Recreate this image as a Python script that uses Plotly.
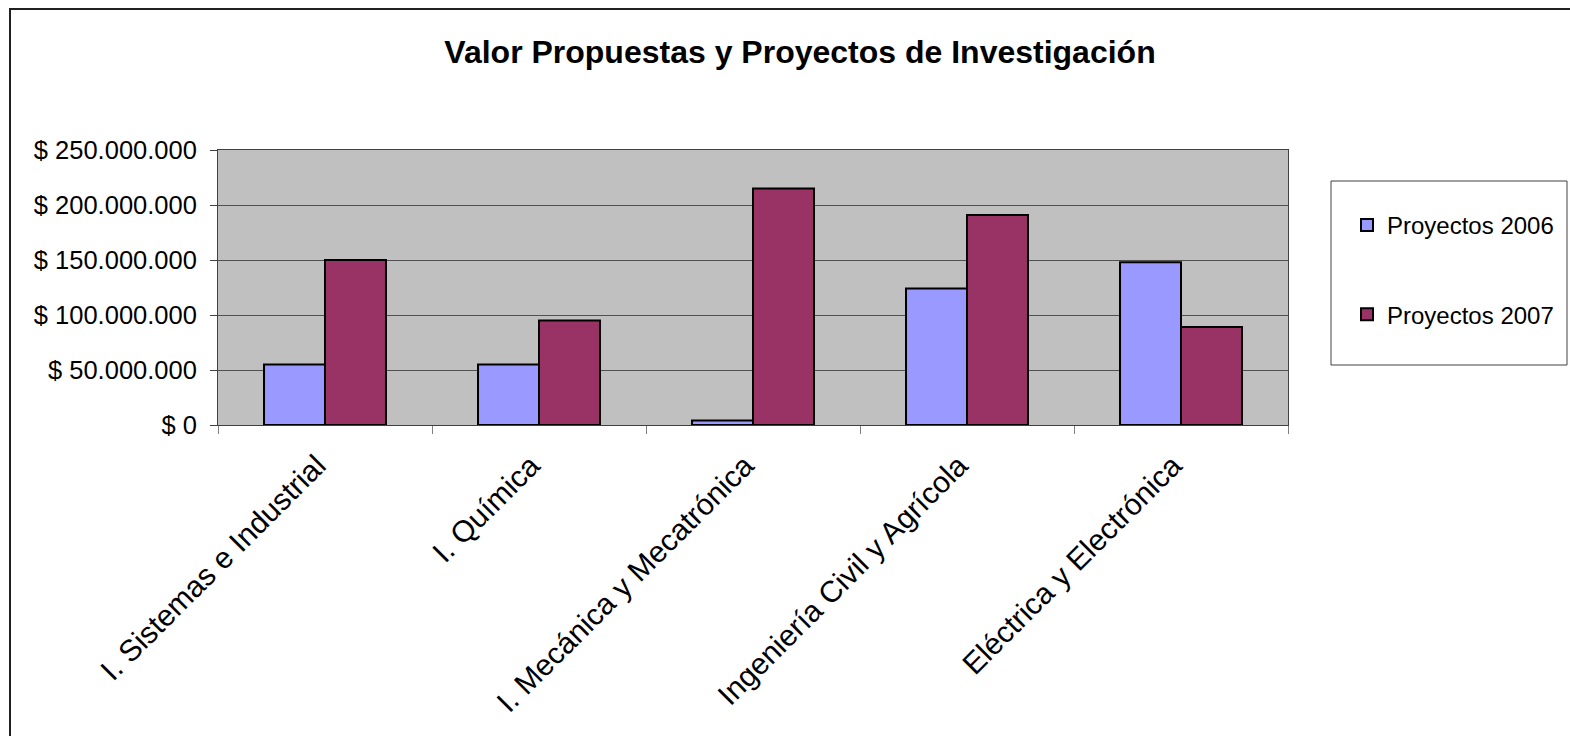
import plotly.graph_objects as go

categories = ["I. Sistemas e Industrial", "I. Química", "I. Mecánica y Mecatrónica",
              "Ingeniería Civil y Agrícola", "Eléctrica y Electrónica"]
proyectos_2006 = [55_000_000, 55_000_000, 4_000_000, 124_000_000, 148_000_000]
proyectos_2007 = [150_000_000, 95_000_000, 215_000_000, 191_000_000, 89_000_000]
y_tick_vals = [0, 50_000_000, 100_000_000, 150_000_000, 200_000_000, 250_000_000]
y_tick_text = ["$ 0", "$ 50.000.000", "$ 100.000.000", "$ 150.000.000",
               "$ 200.000.000", "$ 250.000.000"]

W, H = 1570, 736
# plot area in page pixel coordinates
L, R, T, B = 218, 1288, 150, 425

def px_x(px):
    return (px - L) / (R - L)

def px_y(py):
    return (B - py) / (B - T)

FONT = "Liberation Sans, Arial, sans-serif"

fig = go.Figure()
fig.add_trace(go.Bar(x=categories, y=proyectos_2006, name="Proyectos 2006",
                     legendgroup="a",
                     marker=dict(color="#9999FF", line=dict(color="black", width=2))))
fig.add_trace(go.Bar(x=categories, y=proyectos_2007, name="Proyectos 2007",
                     legendgroup="b",
                     marker=dict(color="#993366", line=dict(color="black", width=2))))

fig.update_layout(
    width=W, height=H,
    margin=dict(l=L, r=W - R, t=T, b=H - B, autoexpand=False),
    paper_bgcolor="white",
    plot_bgcolor="#C0C0C0",
    barmode="group",
    bargap=0.43,
    bargroupgap=0,
    font=dict(family=FONT, color="black"),
    title=dict(text="<b>Valor Propuestas y Proyectos de Investigación</b>",
               font=dict(family=FONT, size=32, color="black"),
               x=800 / W, xref="container", xanchor="center",
               y=1 - 52 / H, yref="container", yanchor="middle"),
    legend=dict(x=px_x(1347), y=px_y(203), xanchor="left", yanchor="top",
                font=dict(family=FONT, size=24, color="black"),
                bgcolor="rgba(0,0,0,0)", borderwidth=0,
                tracegroupgap=55, traceorder="grouped",
                itemclick=False),
    xaxis=dict(type="category", tickson="boundaries", ticks="outside", ticklen=8,
               tickcolor="#808080", tickangle=-45,
               tickfont=dict(family=FONT, size=30, color="black"),
               showline=True, linecolor="#404040", linewidth=1, mirror=True,
               showgrid=False, ticklabelstandoff=10, ticklabelshift=-8),
    yaxis=dict(range=[0, 250_000_000], tickvals=y_tick_vals, ticktext=y_tick_text,
               ticks="outside", ticklen=7, tickcolor="#404040",
               tickfont=dict(family=FONT, size=25.5, color="black"),
               showline=True, linecolor="#404040", linewidth=1, mirror=True,
               showgrid=True, gridcolor="#505050", gridwidth=1,
               zeroline=False, ticklabelstandoff=8),
    shapes=[
        dict(type="rect", xref="paper", yref="paper",
             x0=px_x(10), x1=px_x(1575), y0=px_y(745), y1=px_y(9),
             line=dict(color="#202020", width=2), layer="below"),
        dict(type="rect", xref="paper", yref="paper",
             x0=px_x(1331), x1=px_x(1567), y0=px_y(365), y1=px_y(181),
             line=dict(color="#404040", width=1)),
    ],
)

fig.write_html(
    "out.html",
    config={"displayModeBar": False},
    post_script="document.body.style.margin='0';document.body.style.overflow='hidden';",
)
